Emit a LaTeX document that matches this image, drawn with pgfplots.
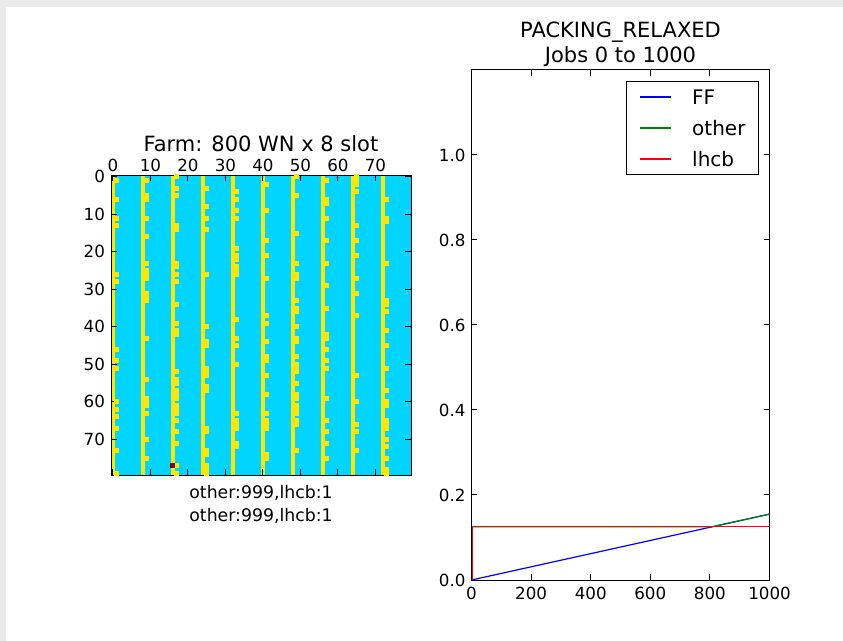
\documentclass[border=0pt]{standalone}
\usepackage{pgfplots}
\pgfplotsset{compat=1.18}
\usepackage{fontspec}
\setmainfont{DejaVu Sans}
\definecolor{jetC}{RGB}{0,212,255}
\definecolor{jetY}{RGB}{255,230,0}
\definecolor{jetR}{RGB}{128,0,0}
\definecolor{mplG}{RGB}{0,128,0}
\definecolor{bggray}{RGB}{234,234,234}
\newcommand\tickfont{\fontsize{16.7bp}{20bp}\selectfont}
\newcommand\titfont{\fontsize{21bp}{25bp}\selectfont}
\newcommand\legfont{\fontsize{20bp}{24bp}\selectfont}
\pgfplotsset{
  every axis/.append style={
    /pgf/number format/assume math mode=true,
    tick label style={font=\tickfont, black},
    axis line style={line width=1bp, black},
    tick style={line width=1bp, black},
    major tick length=5.6bp,
    yticklabel style={xshift=-2.5bp},
  },
}
\begin{document}
\begin{tikzpicture}
\useasboundingbox (0,0) rectangle (843bp,641bp);
\fill[white] (0,0) rectangle (843bp,641bp);
\fill[bggray] (0,0) rectangle (6bp,641bp);
\fill[bggray] (0,634bp) rectangle (843bp,641bp);

% ---------------- left: farm occupancy map ----------------
\begin{axis}[
  at={(111bp,166bp)}, anchor=south west,
  scale only axis, width=300bp, height=300bp,
  xmin=-0.5, xmax=79.5, ymin=-0.5, ymax=79.5,
  y dir=reverse,
  xticklabel pos=upper,
  xtick={0,10,...,70}, ytick={0,10,...,70},
  axis background/.style={fill=jetC},
  axis on top,
  title={Farm: 800 WN x 8 slot},
  title style={font=\titfont, anchor=base, at={(0.5,1)}, yshift=18bp, inner sep=0pt},
  xlabel={other:999,lhcb:1\\other:999,lhcb:1},
  xlabel style={font=\fontsize{17.3bp}{23bp}\selectfont, align=center,
    at={(axis description cs:0.5,0)}, anchor=north, yshift=-10bp, inner sep=0pt},
]
% first slot of each worker node (full columns)
\addplot[draw=none, fill=jetY] coordinates {(-0.5,-0.5) (0.5,-0.5) (0.5,79.5) (-0.5,79.5)} -- cycle;
\addplot[draw=none, fill=jetY] coordinates {(7.5,-0.5) (8.5,-0.5) (8.5,79.5) (7.5,79.5)} -- cycle;
\addplot[draw=none, fill=jetY] coordinates {(15.5,-0.5) (16.5,-0.5) (16.5,79.5) (15.5,79.5)} -- cycle;
\addplot[draw=none, fill=jetY] coordinates {(23.5,-0.5) (24.5,-0.5) (24.5,79.5) (23.5,79.5)} -- cycle;
\addplot[draw=none, fill=jetY] coordinates {(31.5,-0.5) (32.5,-0.5) (32.5,79.5) (31.5,79.5)} -- cycle;
\addplot[draw=none, fill=jetY] coordinates {(39.5,-0.5) (40.5,-0.5) (40.5,79.5) (39.5,79.5)} -- cycle;
\addplot[draw=none, fill=jetY] coordinates {(47.5,-0.5) (48.5,-0.5) (48.5,79.5) (47.5,79.5)} -- cycle;
\addplot[draw=none, fill=jetY] coordinates {(55.5,-0.5) (56.5,-0.5) (56.5,79.5) (55.5,79.5)} -- cycle;
\addplot[draw=none, fill=jetY] coordinates {(63.5,-0.5) (64.5,-0.5) (64.5,79.5) (63.5,79.5)} -- cycle;
\addplot[draw=none, fill=jetY] coordinates {(71.5,-0.5) (72.5,-0.5) (72.5,79.5) (71.5,79.5)} -- cycle;
% second slots in use
\addplot[only marks, mark=square*, mark size=1.9bp,
  mark options={fill=jetY, draw=jetY, line width=0pt}] table[row sep=\\] {
x y\\
1 1\\ 1 6\\ 1 11\\ 1 13\\ 1 26\\ 1 28\\ 1 46\\ 1 49\\ 1 51\\ 1 60\\ 1 62\\ 1 64\\ 1 67\\ 1 73\\ 1 79\\
9 1\\ 9 5\\ 9 6\\ 9 11\\ 9 16\\ 9 23\\ 9 25\\ 9 26\\ 9 27\\ 9 31\\ 9 32\\ 9 33\\ 9 43\\ 9 54\\ 9 59\\ 9 60\\ 9 61\\ 9 63\\ 9 70\\ 9 75\\
17 0\\ 17 3\\ 17 5\\ 17 13\\ 17 14\\ 17 23\\ 17 24\\ 17 26\\ 17 28\\ 17 34\\ 17 39\\ 17 41\\ 17 42\\ 17 52\\ 17 54\\ 17 55\\ 17 57\\ 17 58\\ 17 59\\ 17 61\\ 17 62\\ 17 63\\ 17 65\\ 17 68\\ 17 71\\ 17 77\\ 17 79\\
25 3\\ 25 8\\ 25 11\\ 25 14\\ 25 26\\ 25 40\\ 25 44\\ 25 45\\ 25 51\\ 25 52\\ 25 53\\ 25 56\\ 25 57\\ 25 67\\ 25 68\\ 25 73\\ 25 74\\ 25 77\\ 25 78\\ 25 79\\
33 4\\ 33 6\\ 33 9\\ 33 11\\ 33 19\\ 33 21\\ 33 22\\ 33 24\\ 33 25\\ 33 26\\ 33 38\\ 33 43\\ 33 45\\ 33 50\\ 33 63\\ 33 65\\ 33 66\\ 33 67\\ 33 71\\ 33 72\\
41 2\\ 41 9\\ 41 17\\ 41 21\\ 41 27\\ 41 37\\ 41 39\\ 41 44\\ 41 48\\ 41 49\\ 41 53\\ 41 58\\ 41 63\\ 41 65\\ 41 66\\ 41 67\\ 41 74\\ 41 75\\
49 0\\ 49 5\\ 49 15\\ 49 23\\ 49 26\\ 49 27\\ 49 33\\ 49 35\\ 49 36\\ 49 40\\ 49 43\\ 49 44\\ 49 48\\ 49 50\\ 49 51\\ 49 52\\ 49 55\\ 49 58\\ 49 59\\ 49 61\\ 49 62\\ 49 63\\ 49 65\\ 49 66\\ 49 73\\
57 1\\ 57 6\\ 57 7\\ 57 11\\ 57 17\\ 57 23\\ 57 29\\ 57 35\\ 57 42\\ 57 43\\ 57 46\\ 57 49\\ 57 51\\ 57 59\\ 57 65\\ 57 68\\ 57 71\\ 57 75\\
65 0\\ 65 1\\ 65 2\\ 65 4\\ 65 13\\ 65 17\\ 65 21\\ 65 27\\ 65 31\\ 65 37\\ 65 53\\ 65 60\\ 65 66\\ 65 68\\ 65 73\\
73 6\\ 73 11\\ 73 12\\ 73 23\\ 73 33\\ 73 34\\ 73 36\\ 73 41\\ 73 45\\ 73 51\\ 73 57\\ 73 60\\ 73 61\\ 73 65\\ 73 66\\ 73 67\\ 73 70\\ 73 72\\ 73 75\\ 73 78\\ 73 79\\
};
% the lhcb job
\addplot[only marks, mark=square*, mark size=1.9bp,
  mark options={fill=jetR, draw=jetR, line width=0pt}] coordinates {(16,77)};
\end{axis}

% ---------------- right: fractions ----------------
\begin{axis}[
  at={(471.5bp,61bp)}, anchor=south west,
  scale only axis, width=298bp, height=510bp,
  xmin=0, xmax=1000, ymin=0, ymax=1.2,
  xtick={0,200,400,600,800,1000}, ytick={0,0.2,0.4,0.6,0.8,1.0},
  yticklabel style={/pgf/number format/.cd, fixed, fixed zerofill, precision=1},
  xticklabel style={/pgf/number format/1000 sep={}, yshift=-3.5bp},
  title={PACKING\_RELAXED\\Jobs 0 to 1000},
  title style={font=\titfont, align=center, anchor=south, at={(0.5,1)}, yshift=-3bp, inner sep=0pt},
  legend style={at={(1,1)}, xshift=-10.5bp, yshift=-11bp, anchor=north east,
    draw=black, line width=1bp, font=\legfont, cells={anchor=west},
    nodes={inner sep=0pt, text height=15bp, text depth=0bp},
    row sep=16bp, inner xsep=13bp, inner ysep=8bp},
  legend image code/.code={\draw[#1] (0bp,0bp) -- (31bp,0bp); \path (52bp,0bp);},
]
\addplot[blue, line width=1.2bp] coordinates {(0,0) (1000,0.155)};
\addplot[mplG, line width=1.2bp] coordinates {(0,0.125) (806,0.125) (1000,0.155)};
\addplot[red, line width=1.2bp] coordinates {(3,0) (3,0.125) (1000,0.125)};
\legend{FF,other,lhcb}
\end{axis}
\end{tikzpicture}
\end{document}
